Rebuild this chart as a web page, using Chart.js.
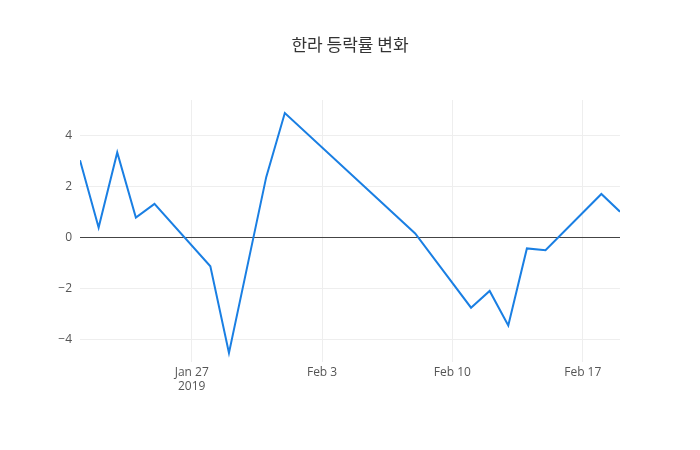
<!DOCTYPE html>
<html>
<head>
<meta charset="utf-8">
<script src="https://cdn.jsdelivr.net/npm/chart.js@4"></script>
<style>
  body { margin: 0; background: #fff; }
  #wrap { width: 700px; height: 450px; }
</style>
</head>
<body>
<div id="wrap"><canvas id="c"></canvas></div>
<script>
// day-of-year style numbers (Jan 1 = 1, Feb 1 = 32)
const days = [21, 22, 23, 24, 25, 28, 29, 31, 32, 39, 42, 43, 44, 45, 46, 49, 50];
const rates = [3.03, 0.39, 3.34, 0.78, 1.32, -1.13, -4.54, 2.37, 4.89, 0.16, -2.76, -2.10, -3.46, -0.43, -0.50, 1.71, 1.01];
const tickDays = [27, 34, 41, 48];
const tickLabels = [['Jan 27', '2019'], 'Feb 3', 'Feb 10', 'Feb 17'];
const yTicks = [-4, -2, 0, 2, 4];
const titleText = '한라 등락률 변화';

const font = { family: '"Open Sans", sans-serif', size: 12 };

// title centred on the whole canvas, like the reference
const centredTitle = {
  id: 'centredTitle',
  afterDraw(chart) {
    const ctx = chart.ctx;
    ctx.save();
    ctx.font = '17px "Noto Sans CJK KR", sans-serif';
    ctx.fillStyle = '#333';
    ctx.textAlign = 'center';
    ctx.textBaseline = 'middle';
    ctx.fillText(titleText, chart.width / 2, 45);
    ctx.restore();
  }
};

new Chart(document.getElementById('c'), {
  type: 'line',
  data: {
    datasets: [{
      data: days.map((d, i) => ({ x: d, y: rates[i] })),
      borderColor: '#1a7fe3',
      borderWidth: 2,
      pointRadius: 0,
      tension: 0,
      fill: false
    }]
  },
  options: {
    responsive: true,
    maintainAspectRatio: false,
    animation: false,
    layout: { padding: { left: 0, right: 80, top: 100, bottom: 53 } },
    plugins: {
      legend: { display: false },
      tooltip: { enabled: false },
      title: { display: false }
    },
    scales: {
      x: {
        type: 'linear',
        min: 21,
        max: 50,
        afterBuildTicks: s => { s.ticks = tickDays.map(v => ({ value: v })); },
        ticks: {
          color: '#555',
          font,
          maxRotation: 0,
          callback: (v) => tickLabels[tickDays.indexOf(v)]
        },
        grid: { color: '#eeeeee', drawTicks: false },
        border: { display: false }
      },
      y: {
        min: -4.9,
        max: 5.4,
        afterBuildTicks: s => { s.ticks = yTicks.map(v => ({ value: v })); },
        afterFit: s => { s.width = 80; },
        ticks: {
          color: '#555',
          font,
          padding: 8,
          callback: v => v < 0 ? '\u2212' + Math.abs(v) : String(v)
        },
        grid: {
          drawTicks: false,
          color: ctx => ctx.tick && ctx.tick.value === 0 ? '#444' : '#eeeeee'
        },
        border: { display: false }
      }
    }
  },
  plugins: [centredTitle]
});
</script>
</body>
</html>
